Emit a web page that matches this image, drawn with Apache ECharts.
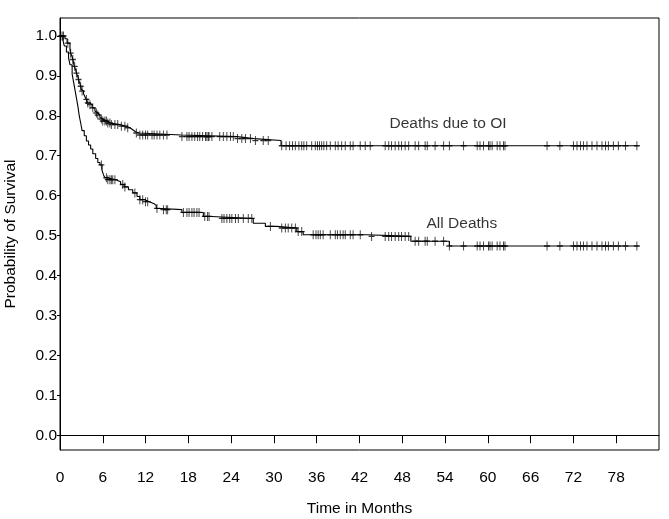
<!DOCTYPE html>
<html>
<head>
<meta charset="utf-8">
<script src="https://cdn.jsdelivr.net/npm/echarts@6/dist/echarts.min.js"></script>
<style>
html,body{margin:0;padding:0;background:#fff;}
#chart{width:669px;height:519px;}
</style>
</head>
<body>
<div id="chart"></div>
<script>
// ---- data ----
const xTicks = [0, 6, 12, 18, 24, 30, 36, 42, 48, 54, 60, 66, 72, 78];
const yTicks = [0.0, 0.1, 0.2, 0.3, 0.4, 0.5, 0.6, 0.7, 0.8, 0.9, 1.0];
const followUpEnd = 81.1;

// Deaths due to OI: event times and survival after each drop
const oiTimes = [0, 0.7, 1.0, 1.4, 1.5, 1.7, 1.8, 2.0, 2.2, 2.3, 2.5, 2.6, 2.8, 2.9, 3.0, 3.1, 3.3, 3.5, 3.7, 3.85, 4.2, 4.5, 4.9, 5.1, 5.3, 5.6, 5.8, 6.0, 6.6, 7.1, 8.4, 9.3, 9.8, 10.2, 10.6, 11.1, 17.0, 24.8, 27.2, 31.0];
const oiSurv = [1.0, 0.993, 0.982, 0.965, 0.957, 0.948, 0.941, 0.924, 0.915, 0.907, 0.898, 0.891, 0.880, 0.874, 0.866, 0.862, 0.855, 0.848, 0.841, 0.832, 0.828, 0.820, 0.812, 0.807, 0.802, 0.796, 0.792, 0.787, 0.782, 0.778, 0.774, 0.770, 0.765, 0.760, 0.757, 0.752, 0.748, 0.743, 0.738, 0.725];
const oiCensor = [0.1, 0.3, 0.5, 1.1, 1.5, 1.8, 2.06, 2.3, 2.6, 2.9, 3.1, 3.7, 3.9, 4.2, 4.6, 5.1, 5.3, 5.8, 6.0, 6.3, 6.5, 6.7, 7.0, 7.2, 7.7, 8.1, 8.6, 9.1, 9.5, 10.7, 11.2, 11.6, 12.0, 12.3, 12.9, 13.2, 13.6, 14.0, 14.5, 15.0, 17.1, 17.8, 18.1, 18.5, 18.9, 19.3, 19.6, 20.0, 20.4, 20.6, 20.8, 20.9, 21.3, 22.4, 22.9, 23.4, 23.9, 24.3, 24.9, 25.5, 26.0, 26.7, 27.4, 28.5, 29.2, 31.1, 31.7, 32.2, 32.6, 33.0, 33.5, 33.9, 34.2, 34.6, 35.3, 35.8, 36.1, 36.4, 36.7, 37.0, 37.4, 37.9, 38.6, 39.0, 39.5, 40.0, 40.7, 41.1, 42.1, 42.8, 43.5, 45.6, 46.1, 46.5, 47.0, 47.5, 47.9, 48.4, 48.9, 49.8, 50.3, 51.2, 51.5, 52.6, 53.8, 54.6, 56.6, 58.5, 58.9, 59.4, 60.1, 60.3, 60.6, 61.3, 61.7, 62.2, 62.4, 68.3, 70.1, 72.0, 72.5, 73.0, 73.4, 73.9, 74.6, 75.3, 76.0, 76.5, 76.9, 77.6, 78.3, 79.3, 80.9];

// All deaths
const allTimes = [0, 0.4, 0.6, 0.9, 1.2, 1.4, 1.7, 1.9, 2.1, 2.3, 2.5, 2.7, 2.9, 3.1, 3.4, 3.7, 4.0, 4.3, 4.6, 5.0, 5.3, 5.6, 5.9, 6.1, 6.3, 6.6, 7.8, 8.5, 9.0, 9.6, 10.2, 10.8, 11.2, 11.9, 12.5, 13.2, 13.5, 14.2, 17.1, 20.1, 21.2, 27.1, 28.8, 30.4, 33.2, 34.1, 43.0, 49.2, 54.6];
const allSurv = [1.0, 0.99, 0.975, 0.96, 0.945, 0.928, 0.905, 0.885, 0.865, 0.845, 0.825, 0.80, 0.782, 0.763, 0.75, 0.737, 0.727, 0.717, 0.705, 0.693, 0.683, 0.677, 0.663, 0.652, 0.645, 0.640, 0.635, 0.628, 0.622, 0.615, 0.607, 0.598, 0.590, 0.585, 0.580, 0.575, 0.568, 0.565, 0.558, 0.548, 0.543, 0.531, 0.523, 0.519, 0.510, 0.502, 0.498, 0.486, 0.474];
const allCensor = [5.8, 6.5, 6.7, 7.0, 7.2, 7.4, 7.7, 8.8, 9.1, 10.5, 11.2, 11.6, 12.0, 12.3, 13.6, 14.5, 14.9, 15.1, 17.3, 17.8, 18.1, 18.5, 18.8, 19.2, 19.5, 20.3, 20.7, 20.9, 22.7, 23.0, 23.4, 23.8, 24.1, 24.6, 25.0, 25.7, 26.4, 26.9, 29.5, 31.1, 31.6, 32.0, 32.5, 33.0, 33.4, 33.9, 35.5, 35.9, 36.2, 36.5, 36.9, 37.9, 38.6, 38.9, 39.3, 39.7, 40.0, 40.7, 41.1, 42.1, 43.7, 45.6, 46.1, 46.5, 47.0, 47.5, 47.9, 48.4, 48.9, 49.8, 50.3, 51.2, 51.5, 52.6, 53.8, 54.6, 56.6, 58.5, 58.9, 59.4, 60.1, 60.3, 60.6, 61.3, 61.7, 62.2, 62.4, 68.3, 70.1, 72.0, 72.5, 73.0, 73.4, 73.9, 74.6, 75.3, 76.0, 76.5, 76.9, 77.6, 78.3, 79.3, 80.9];

const curveLabels = ['Deaths due to OI', 'All Deaths'];
const labelAnchors = [[46.2, 0.779], [51.4, 0.529]];

// ---- build ----
function stepData(times, surv) {
  const d = times.map((t, i) => [t, surv[i]]);
  d.push([followUpEnd, surv[surv.length - 1]]);
  return d;
}
function survAt(times, surv, t) {
  let s = surv[0];
  for (let i = 0; i < times.length; i++) { if (times[i] <= t) s = surv[i]; }
  return s;
}
const plusPath = 'path://M3,0L3,9M0,4.5L6,4.5';
const chart = echarts.init(document.getElementById('chart'), null, {renderer: 'canvas'});
const font = 'Liberation Sans, Arial, sans-serif';
const fs = 15.5;
chart.setOption({
  backgroundColor: '#fff',
  animation: false,
  grid: {left: 60, right: 10, top: 18, bottom: 69, show: true, borderColor: '#000', borderWidth: 1,
         containLabel: false, outerBoundsMode: 'none'},
  xAxis: {
    type: 'value', min: 0, max: 84,
    name: 'Time in Months', nameLocation: 'middle', nameGap: 51,
    nameTextStyle: {fontFamily: font, fontSize: fs, color: '#000'},
    axisLine: {show: true, lineStyle: {color: '#000', width: 1}},
    axisTick: {show: true, length: 8, lineStyle: {color: '#000'}, customValues: xTicks},
    axisLabel: {fontFamily: font, fontSize: fs, color: '#000', margin: 20, customValues: xTicks},
    splitLine: {show: false}
  },
  yAxis: {
    type: 'value', min: -0.037, max: 1.045,
    name: 'Probability of Survival', nameLocation: 'middle', nameGap: 41, nameRotate: 90,
    nameTextStyle: {fontFamily: font, fontSize: fs, color: '#000'},
    axisLine: {show: true, lineStyle: {color: '#000', width: 1}},
    axisTick: {show: true, length: 3, lineStyle: {color: '#000'}, customValues: yTicks},
    axisLabel: {fontFamily: font, fontSize: fs, color: '#000', margin: 3, customValues: yTicks,
      formatter: v => Number(v).toFixed(1)},
    splitLine: {show: false}
  },
  series: [
    {type: 'line', step: 'end', showSymbol: false, data: stepData(oiTimes, oiSurv),
     lineStyle: {color: '#000', width: 1.1}, z: 2},
    {type: 'line', step: 'end', showSymbol: false, data: stepData(allTimes, allSurv),
     lineStyle: {color: '#000', width: 1.1}, z: 2},
    {type: 'scatter', symbol: plusPath, symbolSize: [6, 9],
     data: oiCensor.map(t => [t, survAt(oiTimes, oiSurv, t)]),
     itemStyle: {color: 'rgba(0,0,0,0)', borderColor: '#000', borderWidth: 1.1}, z: 3},
    {type: 'scatter', symbol: plusPath, symbolSize: [6, 9],
     data: allCensor.map(t => [t, survAt(allTimes, allSurv, t)]),
     itemStyle: {color: 'rgba(0,0,0,0)', borderColor: '#000', borderWidth: 1.1}, z: 3},
    {type: 'scatter', symbolSize: 0, silent: true,
     data: curveLabels.map((n, i) => ({name: n, value: labelAnchors[i]})),
     label: {show: true, position: 'right', distance: 0, formatter: p => p.name,
       fontFamily: font, fontSize: fs, color: '#000'}, z: 4}
  ]
});
</script>
</body>
</html>
